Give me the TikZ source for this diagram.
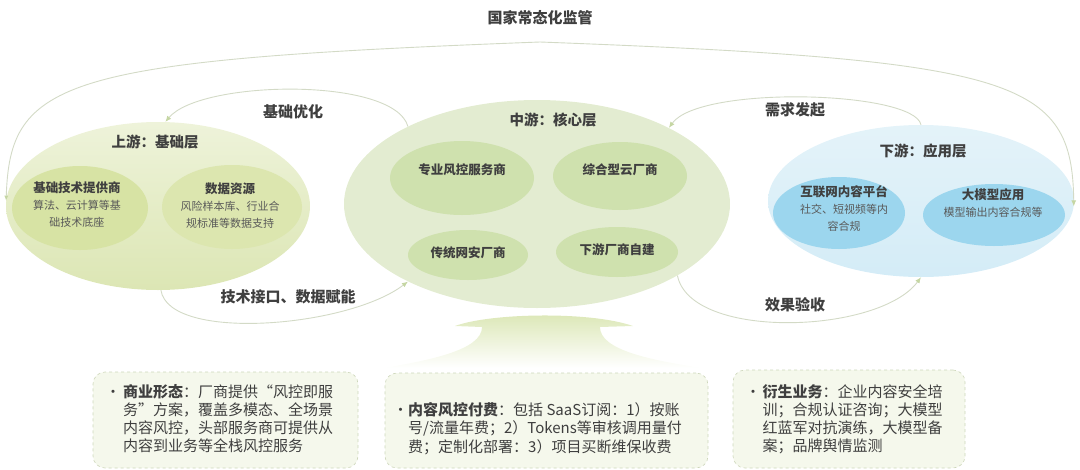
\documentclass[tikz,border=0pt]{standalone}
\usepackage{fontspec}
\setmainfont{Noto Sans CJK SC}
\usetikzlibrary{shapes.geometric,arrows.meta}
\definecolor{txt}{HTML}{3F3F3F}
\definecolor{subtxt}{HTML}{595959}
\definecolor{flowline}{HTML}{D3DAC6}
\definecolor{flowtip}{HTML}{C5D6A3}
\definecolor{upTop}{HTML}{EEF3DA}
\definecolor{upBottom}{HTML}{DCE6B4}
\definecolor{upInner}{HTML}{D7E3A4}
\definecolor{midOuter}{HTML}{E3ECD1}
\definecolor{midInner}{HTML}{CFE1AE}
\definecolor{downTop}{HTML}{E4F3F9}
\definecolor{downBottom}{HTML}{D4ECF7}
\definecolor{downInner}{HTML}{9CD6EE}
\definecolor{stem}{HTML}{DAE6B3}
\definecolor{boxFill}{HTML}{F5F8EC}
\definecolor{boxLine}{HTML}{CDD6BA}

\begin{document}
\begin{tikzpicture}[x=1pt,y=-1pt,
  every node/.style={text=txt},
  layer/.style={ellipse, inner sep=0pt},
  flow/.style={draw=flowline, line width=0.9pt, -{Latex[length=6pt,width=5pt,color=flowtip]}},
  flowlabel/.style={font=\fontsize{15}{18}\selectfont\bfseries},
  layertitle/.style={font=\fontsize{14.5}{18}\selectfont\bfseries},
  partname/.style={font=\fontsize{12.5}{16}\selectfont\bfseries},
  partdesc/.style={align=center, font=\fontsize{11}{17}\selectfont},
  infobox/.style={draw=boxLine, dashed, rounded corners=12pt, fill=boxFill, line width=0.6pt},
  infotext/.style={font=\fontsize{15}{17.7}\selectfont, anchor=west, inner sep=0pt}
]
\useasboundingbox (0,0) rectangle (1080,469);

% three layers
\node[layer, top color=upTop, bottom color=upBottom, minimum width=304pt, minimum height=168pt] (up) at (158,206) {};
\node[layer, fill=midOuter, minimum width=386pt, minimum height=208pt] (mid) at (537,204) {};
\node[layer, top color=downTop, bottom color=downBottom, minimum width=306pt, minimum height=152pt] (down) at (921,201) {};

% upstream
\node[layer, fill=upInner, minimum width=136pt, minimum height=84pt] (upTech) at (80,208) {};
\node[layer, fill=upInner!80!upTop, minimum width=140pt, minimum height=84pt] (upData) at (232,207) {};
\node[layertitle] (upTitle) at (155,142) {上游：基础层};
\node[partdesc] (upTechText) at (77,205) {{\fontsize{12.5}{17}\selectfont\bfseries 基础技术提供商}\\\textcolor{subtxt}{算法、云计算等基}\\\textcolor{subtxt}{础技术底座}};
\node[partdesc] (upDataText) at (230,205.5) {{\fontsize{12.5}{17}\selectfont\bfseries 数据资源}\\\textcolor{subtxt}{风险样本库、行业合}\\\textcolor{subtxt}{规标准等数据支持}};

% midstream
\node[layer, fill=midInner, minimum width=144pt, minimum height=74pt] (midPro) at (462,178) {};
\node[layer, fill=midInner, minimum width=134pt, minimum height=68pt] (midCloud) at (620,176) {};
\node[layer, fill=midInner, minimum width=120pt, minimum height=50pt] (midSec) at (468,255) {};
\node[layer, fill=midInner, minimum width=122pt, minimum height=50pt] (midSelf) at (617,252) {};
\node[layertitle] (midTitle) at (553,120) {中游：核心层};
\node[partname] (midProText) at (462,170) {专业风控服务商};
\node[partname] (midCloudText) at (620,170) {综合型云厂商};
\node[partname] (midSecText) at (468,253) {传统网安厂商};
\node[partname] (midSelfText) at (617,250) {下游厂商自建};

% downstream
\node[layer, fill=downInner, minimum width=132pt, minimum height=72pt] (downNet) at (839,213) {};
\node[layer, fill=downInner, minimum width=142pt, minimum height=62pt] (downLLM) at (994,215) {};
\node[layertitle] (downTitle) at (923,151) {下游：应用层};
\node[partdesc] (downNetText) at (844,208) {{\fontsize{12.5}{17}\selectfont\bfseries 互联网内容平台}\\\textcolor{subtxt}{社交、短视频等内}\\\textcolor{subtxt}{容合规}};
\node[partdesc] (downLLMText) at (993,203.5) {{\fontsize{12.5}{17}\selectfont\bfseries 大模型应用}\\\textcolor{subtxt}{模型输出内容合规等}};

% stem under the core layer
\shade[top color=stem, bottom color=white] (455,326) .. controls (490,313) and (590,311) .. (633,326) -- (600,327) .. controls (600,350) and (650,360) .. (702,368) -- (384,368) .. controls (430,360) and (482,350) .. (482,327) -- cycle;

% flows
\coordinate (supTop) at (540,42);
\node[flowlabel] (sup) at (540,18) {国家常态化监管};
\draw[flow, {Latex[length=5pt,width=4pt,color=flowtip]}-{Latex[length=6pt,width=5pt,color=flowtip]}] (up.178) .. controls (10,80) and (60,60) .. (supTop) .. controls (1020,60) and (1072,80) .. (down.-2);
\draw[flow] (mid.149) .. controls +(-14,-50) and +(35,-42) .. (up.85);
\node[flowlabel] (optLabel) at (293,112) {基础优化};
\draw[flow] (up.-88) .. controls +(8,52) and +(-60,46) .. (mid.211);
\node[flowlabel] (apiLabel) at (288,297) {技术接口、数据赋能};
\draw[flow] (down.90) .. controls +(-7,-34) and +(31,-43) .. (mid.30);
\node[flowlabel] (needLabel) at (795,110) {需求发起};
\draw[flow] (mid.-27) .. controls +(13,65) and +(-42,57) .. (down.-90);
\node[flowlabel] (checkLabel) at (795,305) {效果验收};

% business notes
\node[infobox, minimum width=265pt, minimum height=96pt] (bizBox) at (225.5,420) {};
\node[infobox, minimum width=323pt, minimum height=95pt] (feeBox) at (546.5,420.5) {};
\node[infobox, minimum width=232pt, minimum height=98pt] (extraBox) at (849,419) {};
\node[infotext] (bizText) at (105.5,420.5) {\begin{tabular}{@{}l@{}l@{}}\makebox[17.5pt][l]{•}&\textbf{商业形态}：厂商提供“风控即服\\&务”方案，覆盖多模态、全场景\\&内容风控，头部服务商可提供从\\&内容到业务等全栈风控服务\end{tabular}};
\node[infotext] (feeText) at (393,430) {\begin{tabular}{@{}l@{}l@{}}\makebox[15pt][l]{•}&\textbf{内容风控付费}：包括 SaaS订阅：1）按账\\&号/流量年费；2）Tokens等审核调用量付\\&费；定制化部署：3）项目买断维保收费\end{tabular}};
\node[infotext] (extraText) at (745.5,420.5) {\begin{tabular}{@{}l@{}l@{}}\makebox[17pt][l]{•}&\textbf{衍生业务}：企业内容安全培\\&训；合规认证咨询；大模型\\&红蓝军对抗演练，大模型备\\&案；品牌舆情监测\end{tabular}};
\end{tikzpicture}
\end{document}
